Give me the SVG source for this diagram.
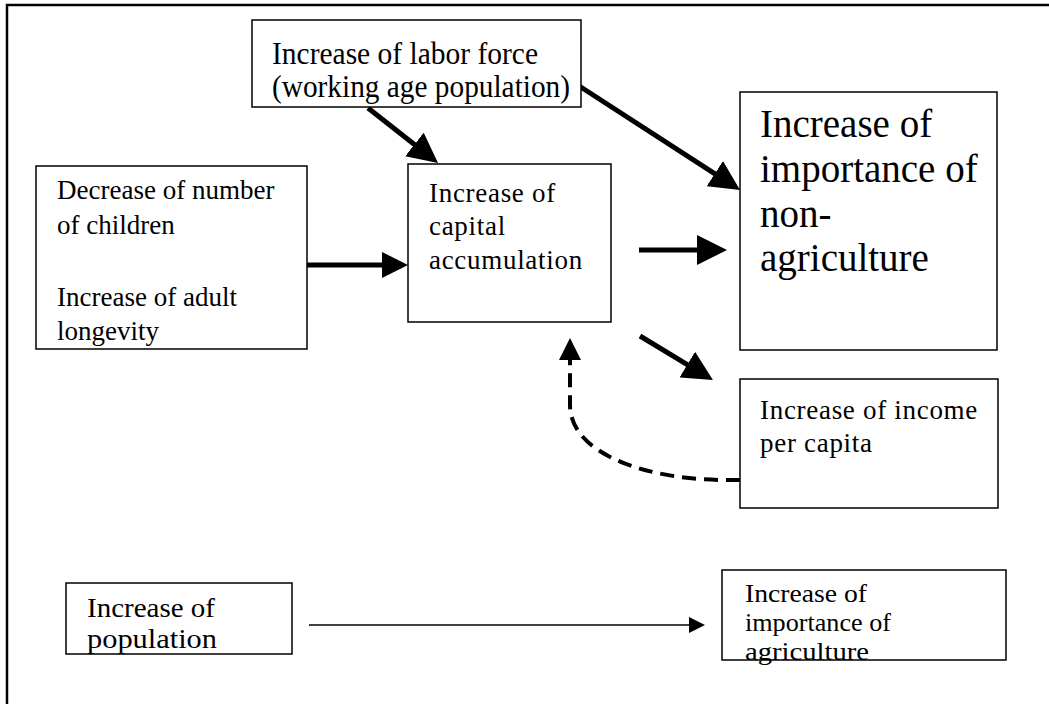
<svg xmlns="http://www.w3.org/2000/svg" width="1049" height="704" viewBox="0 0 1049 704">
<style>
.box{fill:#fff;stroke:#000;stroke-width:1.5}
.t{font-family:"Liberation Serif","Times New Roman",serif;fill:#000}
.thick{stroke:#000;stroke-width:5;fill:none}
.dash{stroke:#000;stroke-width:4;fill:none;stroke-dasharray:14 8}
.thin{stroke:#000;stroke-width:1.5;fill:none}
</style>
<defs>
<marker id="big" markerUnits="userSpaceOnUse" markerWidth="30" markerHeight="30" refX="2" refY="15" orient="auto"><path d="M0,0 L30,15 L0,30 Z" fill="#000"/></marker>
<marker id="med" markerUnits="userSpaceOnUse" markerWidth="26" markerHeight="26" refX="2" refY="13" orient="auto"><path d="M0,0 L26,13 L0,26 Z" fill="#000"/></marker>
<marker id="mid" markerUnits="userSpaceOnUse" markerWidth="22" markerHeight="22" refX="0" refY="11" orient="auto"><path d="M0,0 L22,11 L0,22 Z" fill="#000"/></marker>
<marker id="small" markerUnits="userSpaceOnUse" markerWidth="16" markerHeight="16" refX="0" refY="8" orient="auto"><path d="M0,0 L16,8 L0,16 Z" fill="#000"/></marker>
</defs>
<rect width="1049" height="704" fill="#fff"/>
<g id="frame" fill="none" stroke="#000" stroke-width="2.5">
<path d="M7,704 L7,5 L1049,5"/>
</g>
<g id="connectors">
<line class="thick" x1="368" y1="108" x2="416" y2="145.7" marker-end="url(#big)"/>
<line class="thick" x1="573" y1="82" x2="716.5" y2="174.8" marker-end="url(#big)"/>
<line class="thick" x1="307" y1="265" x2="384" y2="265" marker-end="url(#med)"/>
<line class="thick" x1="639" y1="250" x2="699" y2="250" marker-end="url(#big)"/>
<line class="thick" x1="640" y1="336" x2="689" y2="365.6" marker-end="url(#big)"/>
<path class="dash" d="M740,480 L725,480 C650,480 570,455 570,405 L570,360" marker-end="url(#mid)"/>
<line class="thin" x1="309" y1="625" x2="689" y2="625" marker-end="url(#small)"/>
</g>
<g id="labor">
<rect class="box" x="252" y="20" width="329" height="87"/>
<text class="t" font-size="32"><tspan x="272" y="64" textLength="266" lengthAdjust="spacingAndGlyphs">Increase of labor force</tspan><tspan x="272" y="97" textLength="298" lengthAdjust="spacingAndGlyphs">(working age population)</tspan></text>
</g>
<g id="children">
<rect class="box" x="36" y="166" width="271" height="183"/>
<text class="t" font-size="27"><tspan x="57" y="199">Decrease of number</tspan><tspan x="57" y="234">of children</tspan><tspan x="57" y="306">Increase of adult</tspan><tspan x="57" y="340">longevity</tspan></text>
</g>
<g id="capital">
<rect class="box" x="408" y="164" width="203" height="158"/>
<text class="t" font-size="27" letter-spacing="0.7"><tspan x="429" y="202">Increase of</tspan><tspan x="429" y="235">capital</tspan><tspan x="429" y="269">accumulation</tspan></text>
</g>
<g id="nonagri">
<rect class="box" x="740" y="92" width="257" height="258"/>
<text class="t" font-size="39"><tspan x="760" y="137">Increase of</tspan><tspan x="760" y="182">importance of</tspan><tspan x="760" y="227">non-</tspan><tspan x="760" y="271">agriculture</tspan></text>
</g>
<g id="income">
<rect class="box" x="740" y="379" width="258" height="129"/>
<text class="t" font-size="27" letter-spacing="0.7"><tspan x="760" y="419">Increase of income</tspan><tspan x="760" y="452">per capita</tspan></text>
</g>
<g id="population">
<rect class="box" x="66" y="583" width="226" height="71"/>
<text class="t" font-size="27"><tspan x="87" y="617" textLength="128" lengthAdjust="spacingAndGlyphs">Increase of</tspan><tspan x="87" y="648" textLength="130" lengthAdjust="spacingAndGlyphs">population</tspan></text>
</g>
<g id="agriculture">
<rect class="box" x="722" y="570" width="284" height="90"/>
<text class="t" font-size="25"><tspan x="745" y="602" textLength="122" lengthAdjust="spacingAndGlyphs">Increase of</tspan><tspan x="745" y="631" textLength="146" lengthAdjust="spacingAndGlyphs">importance of</tspan><tspan x="745" y="660" textLength="124" lengthAdjust="spacingAndGlyphs">agriculture</tspan></text>
</g>
</svg>
